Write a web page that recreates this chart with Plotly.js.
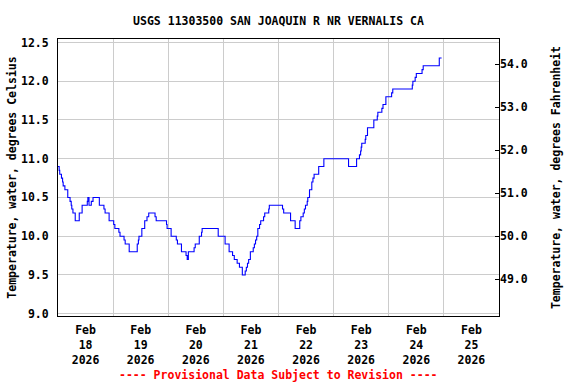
<!DOCTYPE html>
<html>
<head>
<meta charset="utf-8">
<script src="https://cdn.plot.ly/plotly-3.0.1.min.js"></script>
<style>html,body{margin:0;padding:0;background:#fff;}#chart{width:576px;height:384px;}</style>
</head>
<body>
<div id="chart"></div>
<script>
// Step change points of the 15-minute water temperature record (deg C)
const times = [
 '2026-02-18 00:00','2026-02-18 00:30','2026-02-18 00:45','2026-02-18 01:30','2026-02-18 02:00','2026-02-18 02:15','2026-02-18 03:00','2026-02-18 04:15','2026-02-18 05:15','2026-02-18 05:45','2026-02-18 06:00','2026-02-18 06:30','2026-02-18 07:30','2026-02-18 09:15','2026-02-18 10:30','2026-02-18 12:45','2026-02-18 13:00','2026-02-18 13:30','2026-02-18 14:30','2026-02-18 15:15','2026-02-18 18:00','2026-02-18 20:00','2026-02-18 20:30','2026-02-18 22:15',
 '2026-02-19 00:15','2026-02-19 00:45','2026-02-19 02:30','2026-02-19 03:00','2026-02-19 04:45','2026-02-19 05:15','2026-02-19 07:00','2026-02-19 10:30','2026-02-19 11:00','2026-02-19 11:15','2026-02-19 12:30','2026-02-19 13:45','2026-02-19 14:45','2026-02-19 15:30','2026-02-19 18:15','2026-02-19 18:45','2026-02-19 23:15','2026-02-19 23:30',
 '2026-02-20 01:15','2026-02-20 03:30','2026-02-20 04:00','2026-02-20 05:45','2026-02-20 07:45','2026-02-20 08:15','2026-02-20 08:45','2026-02-20 11:15','2026-02-20 11:45','2026-02-20 13:30','2026-02-20 14:30','2026-02-20 14:45','2026-02-20 21:45',
 '2026-02-21 00:45','2026-02-21 02:30','2026-02-21 04:00','2026-02-21 04:45','2026-02-21 06:00','2026-02-21 07:00','2026-02-21 08:15','2026-02-21 09:30','2026-02-21 10:00','2026-02-21 10:30','2026-02-21 11:00','2026-02-21 11:45','2026-02-21 13:00','2026-02-21 13:30','2026-02-21 14:00','2026-02-21 14:30','2026-02-21 15:00','2026-02-21 15:45','2026-02-21 16:15','2026-02-21 17:30','2026-02-21 18:00','2026-02-21 19:45','2026-02-21 20:00',
 '2026-02-22 01:45','2026-02-22 02:15','2026-02-22 05:15','2026-02-22 07:15','2026-02-22 09:15','2026-02-22 09:45','2026-02-22 10:45','2026-02-22 11:15','2026-02-22 11:45','2026-02-22 12:30','2026-02-22 12:45','2026-02-22 13:30','2026-02-22 14:30','2026-02-22 15:00','2026-02-22 15:30','2026-02-22 17:30','2026-02-22 19:45',
 '2026-02-23 06:30','2026-02-23 10:00','2026-02-23 11:15','2026-02-23 11:45','2026-02-23 12:00','2026-02-23 12:15','2026-02-23 13:45','2026-02-23 14:00','2026-02-23 14:45','2026-02-23 17:30','2026-02-23 19:00','2026-02-23 19:15','2026-02-23 21:00','2026-02-23 21:30','2026-02-23 22:45',
 '2026-02-24 01:15','2026-02-24 01:45','2026-02-24 10:15','2026-02-24 10:30','2026-02-24 11:30','2026-02-24 12:00','2026-02-24 14:30','2026-02-24 15:00','2026-02-24 22:00','2026-02-24 23:00'
];
const tempC = [
 10.9,10.85,10.8,10.75,10.7,10.65,10.6,10.5,10.45,10.4,10.35,10.3,10.2,10.3,10.4,10.45,10.5,10.4,10.45,10.5,10.4,10.35,10.3,10.2,
 10.15,10.1,10.05,10.0,9.95,9.9,9.8,9.9,9.95,10.0,10.1,10.2,10.25,10.3,10.25,10.2,10.15,10.1,
 10.0,9.95,9.9,9.8,9.75,9.7,9.8,9.85,9.9,10.0,10.05,10.1,10.0,
 9.9,9.8,9.75,9.7,9.65,9.6,9.5,9.55,9.6,9.65,9.7,9.8,9.85,9.9,9.95,10.0,10.1,10.15,10.2,10.25,10.3,10.35,10.4,
 10.35,10.3,10.2,10.1,10.2,10.25,10.3,10.35,10.4,10.45,10.5,10.6,10.7,10.75,10.8,10.9,11.0,
 10.9,11.0,11.05,11.1,11.15,11.2,11.25,11.3,11.4,11.5,11.55,11.6,11.65,11.7,11.8,
 11.85,11.9,11.95,12.0,12.05,12.1,12.15,12.2,12.3,12.3
];

// Axis labels
const dayTickVals = ['2026-02-18 12:00','2026-02-19 12:00','2026-02-20 12:00','2026-02-21 12:00','2026-02-22 12:00','2026-02-23 12:00','2026-02-24 12:00','2026-02-25 12:00'];
const dayTickText = ['Feb<br>18<br>2026','Feb<br>19<br>2026','Feb<br>20<br>2026','Feb<br>21<br>2026','Feb<br>22<br>2026','Feb<br>23<br>2026','Feb<br>24<br>2026','Feb<br>25<br>2026'];
const dayLines = ['2026-02-19','2026-02-20','2026-02-21','2026-02-22','2026-02-23','2026-02-24','2026-02-25'];
const fahrenheitTicks = [49, 50, 51, 52, 53, 54];

const cRange = [8.97, 12.545];
const fRange = [cRange[0] * 1.8 + 32, cRange[1] * 1.8 + 32];

const FONT = 'DejaVu Sans Mono, Liberation Mono, monospace';
const tf = {family: FONT, size: 11.5, color: '#000', weight: 'bold'};
const grid = '#CCCCCC';

const layout = {
  width: 576, height: 384,
  margin: {l: 58, r: 77, t: 39, b: 68, pad: 0},
  paper_bgcolor: '#fff', plot_bgcolor: '#fff',
  showlegend: false,
  font: tf,
  title: {text: 'USGS 11303500 SAN JOAQUIN R NR VERNALIS CA', font: tf,
          x: 0.5, xref: 'paper', xanchor: 'center', y: 1 - 21/384, yref: 'container', yanchor: 'middle'},
  xaxis: {
    type: 'date', range: ['2026-02-18 00:00', '2026-02-26 00:00'],
    tickmode: 'array', tickvals: dayTickVals, ticktext: dayTickText,
    ticks: '', showgrid: false, zeroline: false,
    showline: true, linecolor: '#000', linewidth: 1, mirror: true,
    tickfont: tf, tickangle: 0, ticklabelstandoff: 3,
    minor: {tickmode: 'array', tickvals: dayLines, showgrid: true, gridcolor: grid, gridwidth: 1, ticks: ''}
  },
  yaxis: {
    range: cRange, tick0: 9, dtick: 0.5, tickformat: '.1f',
    ticks: '', showgrid: true, gridcolor: grid, gridwidth: 1, zeroline: false,
    showline: true, linecolor: '#000', linewidth: 1, mirror: true,
    tickfont: tf, ticklabelstandoff: 6,
    title: {text: 'Temperature, water, degrees Celsius', font: tf, standoff: 1}
  },
  yaxis2: {
    overlaying: 'y', side: 'right', anchor: 'x',
    range: fRange, tickmode: 'array', tickvals: fahrenheitTicks, tickformat: '.1f',
    ticks: 'inside', ticklen: 4, tickcolor: '#000', tickwidth: 1,
    showgrid: false, zeroline: false, showline: false,
    tickfont: tf,
    title: {text: 'Temperature, water, degrees Fahrenheit', font: tf, standoff: 25}
  },
  annotations: [{
    text: '---- Provisional Data Subject to Revision ----',
    xref: 'paper', yref: 'paper', x: 0.5, y: -(375 - 315.7) / 276.4,
    xanchor: 'center', yanchor: 'middle', showarrow: false,
    font: {family: FONT, size: 11.5, color: '#FF0000', weight: 'bold'}
  }]
};

const traces = [
  {x: times, y: tempC, type: 'scatter', mode: 'lines',
   line: {color: '#0000FF', width: 1.1, shape: 'hv'}, hoverinfo: 'skip'},
  {x: [times[0]], y: [null], yaxis: 'y2', type: 'scatter', mode: 'lines', hoverinfo: 'skip', showlegend: false}
];

Plotly.newPlot('chart', traces, layout, {staticPlot: true, displayModeBar: false});
</script>
</body>
</html>
